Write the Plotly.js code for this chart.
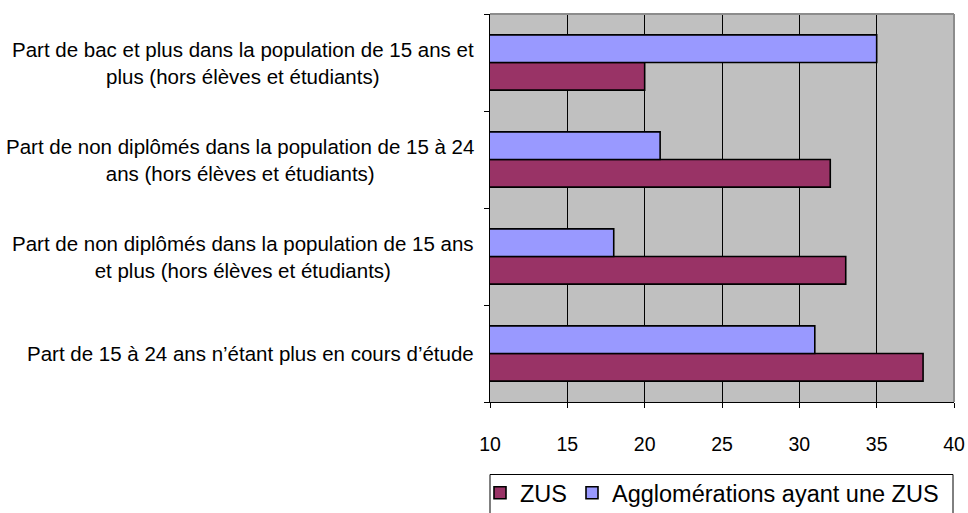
<!DOCTYPE html>
<html>
<head>
<meta charset="utf-8">
<script src="https://cdn.plot.ly/plotly-3.0.1.min.js"></script>
<style>html,body{margin:0;padding:0;background:#fff;}#chart{width:968px;height:513px;}</style>
</head>
<body>
<div id="chart"></div>
<script>
// Categories, top to bottom as shown
const categories = [
  "Part de bac et plus dans la population de 15 ans et<br>plus (hors élèves et étudiants)",
  "Part de non diplômés dans la population de 15 à 24<br>ans (hors élèves et étudiants)",
  "Part de non diplômés dans la population de 15 ans<br>et plus (hors élèves et étudiants)",
  "Part de 15 à 24 ans n’étant plus en cours d’étude"
];
const seriesNames = ["ZUS", "Agglomérations ayant une ZUS"];
const zusValues = [20, 32, 33, 38];
const agglomValues = [35, 21, 18, 31];
const xTickValues = [10, 15, 20, 25, 30, 35, 40];

const FONT = "Liberation Sans, Arial, sans-serif";

const traces = [
  {type: "bar", orientation: "h", name: seriesNames[0], y: categories, x: zusValues,
   marker: {color: "#993366", line: {color: "#000", width: 1.6}}},
  {type: "bar", orientation: "h", name: seriesNames[1], y: categories, x: agglomValues,
   marker: {color: "#9999ff", line: {color: "#000", width: 1.6}}}
];

const annotations = categories.map(c => ({
  xref: "paper", yref: "y", x: 0, y: c, xanchor: "right", yanchor: "middle",
  xshift: -14, text: c, align: "center", showarrow: false,
  font: {family: FONT, size: 20.5, color: "#000"}
}));

const plotH = 513 - 14 - 111;
const plotW = 968 - 490 - 14;

const layout = {
  width: 968, height: 513,
  margin: {l: 490, r: 14, t: 14, b: 111, pad: 0, autoexpand: false},
  paper_bgcolor: "#fff", plot_bgcolor: "#c0c0c0",
  font: {family: FONT, size: 20, color: "#000"},
  barmode: "group", bargap: 0.43, bargroupgap: 0,
  showlegend: true,
  legend: {orientation: "h", x: (480 - 490) / plotW, xanchor: "left",
           y: (402 - 471) / plotH, yanchor: "top",
           traceorder: "normal", borderwidth: 0, bgcolor: "rgba(255,255,255,0)",
           font: {family: FONT, size: 23.5, color: "#000"}, itemwidth: 30},
  xaxis: {range: [10, 40], tickvals: xTickValues, ticks: "outside", ticklen: 5,
          tickcolor: "#000", showline: true, linecolor: "#000", linewidth: 1,
          showgrid: true, gridcolor: "#000", gridwidth: 1, zeroline: false,
          ticklabelstandoff: 20, automargin: false,
          tickfont: {family: FONT, size: 19.5, color: "#000"}, fixedrange: true},
  yaxis: {type: "category", categoryorder: "array", categoryarray: categories.slice().reverse(),
          showticklabels: false, ticks: "outside", ticklen: 5, tickson: "boundaries",
          tickcolor: "#000", showline: true, linecolor: "#000", linewidth: 1,
          showgrid: false, zeroline: false, fixedrange: true, automargin: false},
  annotations: annotations,
  shapes: [
    {type: "line", xref: "paper", yref: "paper", x0: 0, x1: 1, y0: 1, y1: 1, line: {color: "#8c8c8c", width: 2}},
    {type: "line", xref: "paper", yref: "paper", x0: 1, x1: 1, y0: 0, y1: 1, line: {color: "#8c8c8c", width: 2}},
    {type: "line", xref: "paper", yref: "paper", x0: 0, x1: (953 - 490) / plotW,
     y0: (402 - 474.5) / plotH, y1: (402 - 474.5) / plotH, line: {color: "#000", width: 1}},
    {type: "line", xref: "paper", yref: "paper", x0: 0, x1: 0,
     y0: (402 - 474.5) / plotH, y1: (402 - 520) / plotH, line: {color: "#000", width: 1}},
    {type: "line", xref: "paper", yref: "paper", x0: (953 - 490) / plotW, x1: (953 - 490) / plotW,
     y0: (402 - 474.5) / plotH, y1: (402 - 520) / plotH, line: {color: "#000", width: 1}}
  ]
};

Plotly.newPlot("chart", traces, layout, {displayModeBar: false, staticPlot: true});
</script>
</body>
</html>
